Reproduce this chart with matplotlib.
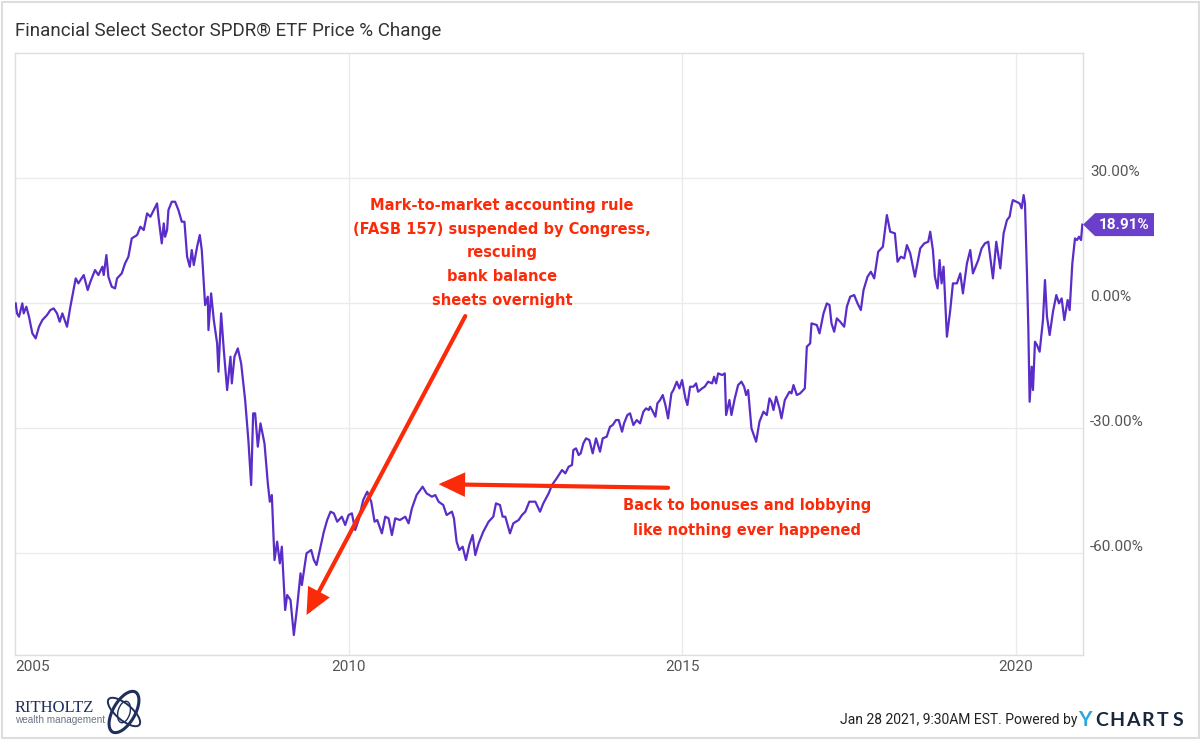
import matplotlib
matplotlib.use("Agg")
import matplotlib.pyplot as plt
import matplotlib.transforms as mtransforms
from matplotlib.patches import Polygon, Ellipse, Rectangle

# ---------------- data (decimal year, % change) ----------------
years = [
 2005.01,2005.03,2005.06,2005.11,2005.13,2005.17,2005.21,2005.26,2005.31,2005.36,2005.41,2005.48,2005.53,2005.58,2005.63,2005.67,2005.71,2005.78,2005.83,2005.91,2005.95,
 2006.03,2006.09,2006.13,2006.20,2006.25,2006.31,2006.33,2006.37,2006.40,2006.45,2006.50,2006.53,2006.60,2006.65,2006.70,2006.75,2006.83,2006.88,2006.93,2006.98,
 2007.03,2007.08,2007.13,2007.15,2007.20,2007.23,2007.25,2007.28,2007.30,2007.35,2007.40,2007.45,2007.50,2007.54,2007.58,2007.62,2007.65,2007.68,2007.73,2007.77,2007.80,2007.85,2007.89,2007.90,2007.94,2007.98,
 2008.03,2008.05,2008.09,2008.13,2008.18,2008.23,2008.25,2008.29,2008.34,2008.39,2008.45,2008.50,2008.54,2008.57,2008.60,2008.64,2008.68,2008.74,2008.79,2008.82,2008.85,2008.89,2008.93,2008.97,
 2009.00,2009.05,2009.08,2009.13,2009.18,2009.23,2009.28,2009.30,2009.37,2009.44,2009.48,2009.52,2009.58,2009.63,2009.68,2009.73,2009.78,2009.83,2009.90,2009.95,
 2010.00,2010.05,2010.10,2010.15,2010.22,2010.28,2010.34,2010.39,2010.43,2010.50,2010.55,2010.60,2010.65,2010.70,2010.77,2010.85,2010.90,2010.95,
 2011.02,2011.11,2011.17,2011.25,2011.30,2011.35,2011.42,2011.47,2011.55,2011.58,2011.62,2011.66,2011.71,2011.76,2011.81,2011.86,2011.90,2011.95,
 2012.02,2012.10,2012.17,2012.21,2012.27,2012.31,2012.35,2012.42,2012.47,2012.55,2012.60,2012.65,2012.71,2012.80,2012.87,2012.92,
 2013.00,2013.05,2013.12,2013.20,2013.25,2013.30,2013.35,2013.37,2013.41,2013.45,2013.48,2013.52,2013.56,2013.61,2013.66,2013.71,2013.77,2013.81,2013.87,2013.92,2013.96,
 2014.01,2014.05,2014.10,2014.13,2014.18,2014.22,2014.27,2014.32,2014.37,2014.42,2014.46,2014.50,2014.52,2014.55,2014.60,2014.63,2014.67,2014.71,2014.75,2014.79,2014.84,2014.87,2014.92,2014.96,
 2015.00,2015.05,2015.08,2015.12,2015.17,2015.21,2015.24,2015.30,2015.34,2015.39,2015.45,2015.48,2015.51,2015.54,2015.60,2015.64,2015.66,2015.71,2015.74,2015.79,2015.84,2015.89,2015.93,2015.96,2015.99,
 2016.04,2016.11,2016.16,2016.22,2016.27,2016.31,2016.34,2016.37,2016.41,2016.46,2016.49,2016.54,2016.61,2016.64,2016.67,2016.72,2016.77,2016.84,2016.87,2016.92,2016.94,
 2017.02,2017.06,2017.12,2017.17,2017.21,2017.24,2017.28,2017.32,2017.37,2017.43,2017.47,2017.52,2017.58,2017.63,2017.68,2017.72,2017.78,2017.83,2017.88,2017.94,
 2018.01,2018.07,2018.12,2018.19,2018.23,2018.28,2018.33,2018.37,2018.42,2018.49,2018.57,2018.63,2018.69,2018.72,2018.76,2018.79,2018.83,2018.86,2018.89,2018.92,2018.97,
 2019.02,2019.06,2019.12,2019.17,2019.21,2019.27,2019.32,2019.36,2019.44,2019.49,2019.54,2019.59,2019.66,2019.71,2019.77,2019.82,2019.87,2019.91,2019.94,2019.96,
 2020.01,2020.06,2020.09,2020.12,2020.14,2020.17,2020.19,2020.21,2020.24,2020.26,2020.29,2020.32,2020.36,2020.41,2020.44,2020.47,2020.51,2020.56,2020.61,2020.65,2020.69,2020.73,2020.78,2020.81,2020.85,2020.89,2020.92,2020.95,2020.98,2021.00,
]
pct_change = [
 0,-2.4,-3.2,0,-2.4,-0.8,-3.2,-7.2,-8.4,-5.6,-4,-2.8,-1.6,-1.2,-2.4,-4.4,-2.4,-5.6,-0.8,6,4.8,
 6.8,3.2,5.2,8,6.8,8.8,6.8,11.6,6.4,4,3.6,6,7.2,9.6,11.2,15.6,16.4,18.4,17.6,21.6,
 20.8,22.4,24,20.8,14.4,19.2,16,17.6,22.4,24.4,24.4,22.4,19.6,19.6,11.2,8.8,12.8,9.2,13.6,16.4,12.8,-0.4,1.6,-6.4,2.4,-4,
 -9.6,-16.4,-2.4,-11.2,-20.8,-12.8,-19.2,-12.8,-10.8,-14.4,-23.2,-33.2,-43.6,-26.4,-26.4,-34.4,-28.8,-33.6,-43.2,-47.6,-46,-61.6,-57.2,-62.4,
 -58.4,-73.6,-70,-71.2,-79.6,-72.8,-64.8,-67.6,-60,-59.2,-61.6,-62.8,-58.4,-54.8,-52,-50,-50.4,-52.4,-51.2,-53.2,
 -50.8,-50.4,-54.4,-52,-47.2,-45.2,-47.6,-52.4,-52,-55.2,-51.2,-51.6,-55.6,-51.6,-52,-51.2,-52.8,-49.2,
 -46,-44,-45.6,-46.4,-46,-47.6,-48.4,-50.8,-50,-51.6,-57.2,-59.2,-58.4,-61.6,-58,-55.6,-60.4,-57.6,
 -54.8,-52.4,-51.2,-48,-48.4,-51.2,-51.2,-55.2,-52.8,-52,-50.8,-50,-47.6,-47.6,-50,-48,
 -45.6,-43.6,-42,-40,-40.8,-39.2,-38.8,-35.2,-34.8,-36.4,-36,-33.6,-32.4,-32.8,-36,-32.4,-35.6,-32.4,-32,-29.6,-29.2,
 -28,-28,-30.8,-28.8,-26.8,-26.4,-29.2,-28,-28.8,-26,-25.2,-25.6,-24.8,-25.6,-27.2,-24,-23.2,-22,-24.4,-27.6,-21.6,-20.8,-18.8,-20.4,
 -18.4,-22.8,-24.4,-20,-20,-19.2,-21.2,-20.4,-20,-18.8,-19.2,-17.6,-19.2,-16.8,-17.2,-16.8,-26.8,-23.2,-26.8,-22.8,-19.6,-18.8,-20,-22,-20.8,
 -30,-33.2,-28.4,-26,-26.8,-22.8,-23.6,-25.6,-22.4,-25.2,-27.6,-23.2,-21.2,-21.6,-19.6,-22,-21.6,-20.4,-10.4,-9.6,-4.8,
 -5.2,-7.2,-2.4,0,-0.4,-4.8,-6.8,-3.6,-4.4,-5.6,-0.8,1.6,2,0,-1.6,3.2,6.4,7.6,6,12.4,
 13.6,21.2,17.2,16.8,10,11.2,10.8,14,12,6.4,13.2,14.4,14.8,17.2,12.8,6.4,3.6,10.4,4.8,8.8,-8,
 -1.6,4.8,4.8,7.2,2.4,9.6,12.8,7.2,10.4,13.2,14.4,14.8,6,14.8,8.4,16.8,20,20.8,23.6,24.8,
 24.4,24,22.8,26,24,7.2,-5.6,-23.6,-15.2,-20.8,-9.2,-10,-11.6,-4,5.6,-3.2,-7.6,-2,2,0,1.2,-4,0.8,-1.6,9.6,15.6,15.2,16,15.2,18.91,
]
ytick_vals = [30, 0, -30, -60]
ytick_labels = ["30.00%", "0.00%", "-30.00%", "-60.00%"]
xtick_vals = [2005, 2010, 2015, 2020]
xtick_labels = ["2005", "2010", "2015", "2020"]
last_label = "18.91%"

title = "Financial Select Sector SPDR® ETF Price % Change"
note1 = ["Mark-to-market accounting rule", "(FASB 157) suspended by Congress,",
         "rescuing", "bank balance", "sheets overnight"]
note2 = ["Back to bonuses and lobbying", "like nothing ever happened"]

# ---------------- styles ----------------
LINE = "#5a2dc8"
TAG = "#6a3fc9"
RED = "#fb2b0a"
GRID = "#ebebeb"
SPINE = "#dedede"
TXT = "#555555"

plt.rcParams['font.family'] = ['Roboto', 'DejaVu Sans']

W, H = 1200, 739
fig = plt.figure(figsize=(W / 100, H / 100), dpi=100)
fig.patch.set_facecolor("white")

L, R, T, B = 15, 1083, 53, 655
ax = fig.add_axes([L / W, 1 - B / H, (R - L) / W, (B - T) / H])
ax.plot(years, pct_change, color=LINE, lw=1.6, solid_joinstyle="round", zorder=3)
ax.set_xlim(2005.0, 2021.01)
ax.set_ylim(-84.4, 60.1)

ax.set_yticks(ytick_vals)
ax.set_xticks(xtick_vals[1:])
ax.tick_params(length=0, labelleft=False, labelbottom=False)
ax.grid(True, color=GRID, lw=1)
ax.set_axisbelow(True)
for s in ax.spines.values():
    s.set_color(SPINE)
    s.set_linewidth(1)

# y labels on right, slightly above gridlines
ytr = mtransforms.offset_copy(ax.get_yaxis_transform(), fig=fig, x=7, y=6.5, units="dots")
for v, lab in zip(ytick_vals, ytick_labels):
    ax.text(1.0, v, lab, transform=ytr, ha="left", va="center", fontsize=11,
            color=TXT, clip_on=False)

# x labels
xtr = mtransforms.offset_copy(ax.get_xaxis_transform(), fig=fig, x=0, y=-12, units="dots")
for v, lab in zip(xtick_vals, xtick_labels):
    ax.text(v, 0, lab, transform=xtr, ha="left" if v == xtick_vals[0] else "center",
            va="center", fontsize=11, color=TXT, clip_on=False)

# last value tag
anchor = mtransforms.ScaledTranslation(1.0, pct_change[-1], ax.get_yaxis_transform())
tagtr = fig.dpi_scale_trans + anchor
poly = Polygon([(0.0, 0.0), (0.12, 0.115), (0.71, 0.115), (0.71, -0.115), (0.12, -0.115)],
               closed=True, transform=tagtr, facecolor=TAG, edgecolor="none", clip_on=False, zorder=5)
ax.add_patch(poly)
ax.text(0.415, 0.0, last_label, transform=tagtr, ha="center", va="center", color="white",
        fontsize=11, fontweight="bold", clip_on=False, zorder=6)

# annotations
afont = dict(family=["DejaVu Sans"], fontweight="bold", fontsize=10.5, color=RED)
for i, line in enumerate(note1):
    ax.text(2012.30, 23.6 - i * 5.75, line, ha="center", va="center", **afont)
for i, line in enumerate(note2):
    ax.text(2015.97, -48.4 - i * 6.0, line, ha="center", va="center", **afont)

aprops = dict(arrowstyle="-|>,head_length=1.4,head_width=0.65", mutation_scale=10,
              color=RED, lw=3, shrinkA=0, shrinkB=0, joinstyle="miter")
ax.annotate("", xy=(2009.37, -74.8), xytext=(2011.75, -3.05), arrowprops=aprops, zorder=4)
ax.annotate("", xy=(2011.35, -43.4), xytext=(2014.79, -44.26), arrowprops=aprops, zorder=4)

# title
fig.text(15 / W, 1 - 31 / H, title, ha="left", va="center", fontsize=13.5, color="#333333")

# footer
fy = 1 - 720 / H
fig.text(1077 / W, fy, "Jan 28 2021, 9:30AM EST. Powered by", ha="right", va="center",
         fontsize=10, color="#222222")
fig.text(1078 / W, fy, "Y", ha="left", va="center", fontsize=15, fontweight="bold",
         color="#2aa7e0", family=["Lato", "DejaVu Sans"])
for i, ch in enumerate("CHARTS"):
    fig.text((1102 + i * 15.2) / W, fy, ch, ha="center", va="center", fontsize=14,
             fontweight="bold", color="#17263a", family=["Lato", "DejaVu Sans"])

fig.text(15 / W, 1 - 708.5 / H, "RITHOLTZ", ha="left", va="center", fontsize=12,
         color="#1f2f5c", family=["Liberation Serif", "DejaVu Serif"])
fig.text(15 / W, 1 - 720 / H, "wealth management", ha="left", va="center", fontsize=7.2,
         color="#6b7585", family=["Liberation Sans", "DejaVu Sans"])
for ang, wd, ht, lw in [(60, 44, 20, 2.2), (-35, 40, 16, 1.4), (75, 22, 12, 1.0)]:
    fig.add_artist(Ellipse((124 / W, 1 - 712 / H), wd / W, ht / H, angle=0, fill=False,
                           edgecolor="#1f2f5c", lw=lw, transform=fig.transFigure))
    fig.artists[-1].remove()
# draw logo ellipses in pixel space so rotation is not distorted
pix = mtransforms.IdentityTransform()
for ang, wd, ht, lw in [(60, 46, 22, 2.2), (-40, 40, 16, 1.4), (75, 22, 12, 1.0)]:
    fig.add_artist(Ellipse((124, H - 712), wd, ht, angle=ang, fill=False,
                           edgecolor="#1f2f5c", lw=lw, transform=pix))

# outer frame
fig.add_artist(Rectangle((1.5 / W, 1.5 / H), (W - 3) / W, (H - 3) / H, fill=False,
                         edgecolor="#dddddd", lw=1.5, transform=fig.transFigure))

fig.savefig("out.png", dpi=100, facecolor="white")
